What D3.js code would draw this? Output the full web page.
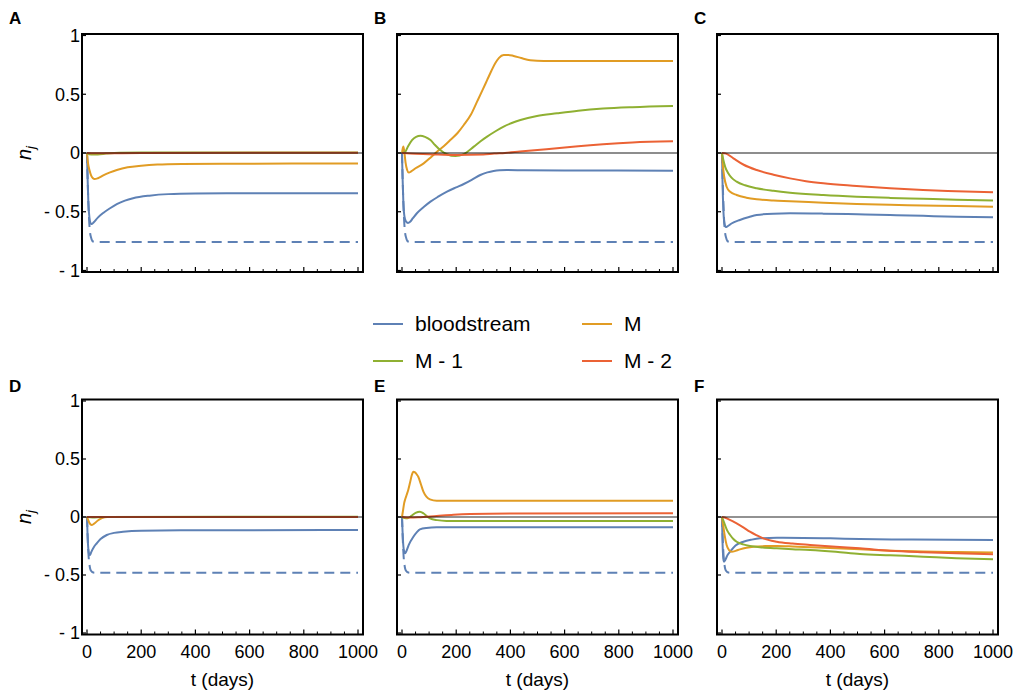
<!DOCTYPE html>
<html>
<head>
<meta charset="utf-8">
<script src="https://cdn.jsdelivr.net/npm/d3@7"></script>
<style>
  html, body { margin: 0; padding: 0; background: #fff; }
  svg { display: block; font-family: "Liberation Sans", Arial, sans-serif; }
</style>
</head>
<body>
<svg id="chart" width="1015" height="695"></svg>
<script>
// ---------------- DATA ----------------
const xTicks = [0, 200, 400, 600, 800, 1000];
const xMinorTicks = [50,100,150,250,300,350,450,500,550,650,700,750,850,900,950];
const yTicks = [1, 0.5, 0, -0.5, -1];
const yTickLabels = ["1", "0.5", "0", "- 0.5", "- 1"];
const seriesNames = ["bloodstream", "M", "M - 1", "M - 2"];
const seriesColors = ["#5E81B5", "#E19C24", "#8FB032", "#EB6235"];
const panelLetters = ["A", "B", "C", "D", "E", "F"];
const xLabel = "t (days)";

// dashed reference levels (bloodstream colour)
const dashTop = [[0,0],[4,-0.35],[8,-0.58],[11,-0.67],[15,-0.72],[20,-0.75],[28,-0.757],[1000,-0.757]];
const dashBottom = [[0,0],[3,-0.2],[6,-0.34],[9,-0.41],[13,-0.455],[20,-0.475],[28,-0.481],[1000,-0.481]];

// Panel A
const A_blood = [[0,0],[2,-0.2],[5,-0.42],[9,-0.55],[14,-0.6],[18,-0.605],[25,-0.59],[40,-0.55],[60,-0.51],[85,-0.47],[110,-0.435],[140,-0.405],[170,-0.385],[230,-0.363],[300,-0.35],[400,-0.345],[600,-0.343],[1000,-0.342]];
const A_M  = [[0,0],[4,-0.09],[9,-0.145],[15,-0.19],[22,-0.215],[28,-0.222],[40,-0.215],[60,-0.19],[85,-0.165],[110,-0.145],[150,-0.122],[200,-0.108],[260,-0.098],[350,-0.093],[500,-0.091],[1000,-0.09]];
const A_M1 = [[0,0],[15,-0.012],[40,-0.012],[70,-0.005],[120,0.003],[200,0.005],[1000,0.005]];
const A_M2 = [[0,0],[50,-0.003],[200,0],[1000,0.002]];

// Panel B
const B_blood = [[0,0],[2,-0.2],[5,-0.42],[9,-0.54],[15,-0.585],[22,-0.595],[30,-0.585],[40,-0.555],[55,-0.513],[80,-0.46],[105,-0.414],[135,-0.37],[166,-0.329],[197,-0.295],[228,-0.264],[260,-0.225],[289,-0.187],[315,-0.165],[338,-0.153],[360,-0.147],[387,-0.145],[450,-0.147],[600,-0.149],[1000,-0.15]];
const B_M  = [[0,0],[2,0.03],[5,0.055],[8,0.02],[13,-0.08],[19,-0.145],[25,-0.167],[35,-0.155],[50,-0.13],[80,-0.088],[105,-0.04],[129,0.011],[155,0.06],[178,0.11],[205,0.17],[228,0.238],[255,0.33],[277,0.437],[297,0.535],[314,0.62],[330,0.7],[344,0.763],[358,0.81],[375,0.834],[392,0.835],[412,0.826],[440,0.808],[473,0.79],[523,0.783],[1000,0.783]];
const B_M1 = [[0,0],[5,0.002],[12,0.01],[22,0.055],[37,0.11],[52,0.138],[68,0.147],[85,0.137],[105,0.11],[122,0.068],[141,0.025],[166,-0.011],[197,-0.026],[228,-0.009],[265,0.054],[290,0.1],[314,0.139],[345,0.185],[375,0.224],[405,0.255],[437,0.281],[498,0.315],[572,0.338],[650,0.36],[742,0.378],[850,0.39],[1000,0.4]];
const B_M2 = [[0,0],[30,-0.005],[100,-0.01],[200,-0.017],[300,-0.013],[340,-0.005],[380,0],[435,0.012],[500,0.026],[572,0.04],[650,0.058],[742,0.075],[850,0.09],[1000,0.1]];

// Panel C
const C_blood = [[0,0],[2,-0.25],[5,-0.48],[9,-0.6],[14,-0.63],[20,-0.625],[35,-0.6],[66,-0.57],[100,-0.545],[128,-0.528],[190,-0.516],[251,-0.513],[374,-0.516],[500,-0.522],[620,-0.528],[742,-0.535],[865,-0.542],[1000,-0.547]];
const C_M  = [[0,0],[3,-0.1],[8,-0.2],[17,-0.287],[30,-0.33],[54,-0.357],[90,-0.38],[128,-0.394],[190,-0.405],[251,-0.41],[374,-0.423],[497,-0.434],[620,-0.441],[742,-0.446],[865,-0.452],[1000,-0.457]];
const C_M1 = [[0,0],[5,-0.06],[12,-0.12],[23,-0.173],[35,-0.21],[54,-0.244],[85,-0.275],[128,-0.3],[190,-0.322],[251,-0.338],[374,-0.358],[497,-0.372],[620,-0.382],[742,-0.39],[865,-0.398],[1000,-0.405]];
const C_M2 = [[0,0],[15,-0.005],[42,-0.045],[80,-0.1],[128,-0.145],[190,-0.185],[251,-0.216],[310,-0.24],[374,-0.258],[497,-0.28],[620,-0.3],[742,-0.315],[865,-0.325],[1000,-0.335]];

// Panel D
const D_blood = [[0,0],[2,-0.15],[5,-0.28],[8,-0.32],[11,-0.328],[16,-0.3],[25,-0.26],[36,-0.227],[50,-0.19],[73,-0.155],[100,-0.137],[133,-0.127],[200,-0.118],[400,-0.114],[1000,-0.112]];
const D_M  = [[0,0],[5,-0.03],[10,-0.055],[17,-0.069],[25,-0.06],[40,-0.03],[55,-0.01],[75,0],[1000,0]];
const D_M1 = [[0,0],[20,-0.004],[60,0.001],[1000,0.002]];
const D_M2 = [[0,0],[1000,0.001]];

// Panel E
const E_blood = [[0,0],[2,-0.12],[5,-0.25],[8,-0.3],[11,-0.313],[15,-0.3],[25,-0.24],[42,-0.17],[55,-0.13],[66,-0.106],[90,-0.094],[128,-0.089],[1000,-0.089]];
const E_M  = [[0,0],[4,0.06],[8,0.12],[11,0.147],[17,0.19],[23,0.233],[30,0.3],[36,0.36],[42,0.39],[48,0.385],[55,0.365],[60,0.347],[70,0.28],[79,0.218],[90,0.175],[103,0.152],[128,0.14],[200,0.14],[1000,0.14]];
const E_M1 = [[0,0],[10,-0.008],[20,-0.01],[35,0.01],[50,0.035],[66,0.046],[80,0.03],[95,0],[103,-0.011],[130,-0.027],[164,-0.034],[250,-0.035],[1000,-0.035]];
const E_M2 = [[0,0],[30,-0.005],[60,-0.003],[128,0.009],[190,0.02],[251,0.026],[400,0.03],[1000,0.032]];

// Panel F
const F_blood = [[0,0],[2,-0.22],[5,-0.36],[7,-0.385],[12,-0.37],[20,-0.33],[30,-0.299],[50,-0.245],[79,-0.213],[110,-0.195],[140,-0.184],[202,-0.178],[300,-0.18],[400,-0.184],[509,-0.19],[700,-0.194],[1000,-0.198]];
const F_M  = [[0,0],[2,-0.04],[5,-0.083],[10,-0.16],[17,-0.241],[26,-0.285],[36,-0.299],[50,-0.292],[66,-0.279],[90,-0.265],[116,-0.256],[160,-0.251],[202,-0.25],[260,-0.254],[325,-0.261],[420,-0.27],[509,-0.279],[620,-0.29],[742,-0.297],[865,-0.302],[1000,-0.307]];
const F_M1 = [[0,0],[5,-0.03],[12,-0.075],[20,-0.12],[30,-0.155],[42,-0.19],[54,-0.213],[78,-0.236],[103,-0.25],[150,-0.262],[202,-0.27],[260,-0.277],[325,-0.284],[420,-0.3],[509,-0.319],[620,-0.33],[742,-0.342],[865,-0.355],[1000,-0.365]];
const F_M2 = [[0,0],[10,-0.005],[25,-0.02],[54,-0.055],[80,-0.092],[103,-0.127],[128,-0.158],[152,-0.184],[202,-0.213],[260,-0.229],[325,-0.241],[420,-0.257],[509,-0.27],[620,-0.29],[742,-0.303],[865,-0.313],[1000,-0.322]];

const panelSeries = [
  [A_blood, A_M, A_M1, A_M2],
  [B_blood, B_M, B_M1, B_M2],
  [C_blood, C_M, C_M1, C_M2],
  [D_blood, D_M, D_M1, D_M2],
  [E_blood, E_M, E_M1, E_M2],
  [F_blood, F_M, F_M1, F_M2]
];
const panelDash = [dashTop, dashTop, dashTop, dashBottom, dashBottom, dashBottom];

// ---------------- LAYOUT ----------------
const svg = d3.select("#chart");
const colLeft = [82, 397, 717];
const panelW = 281;
const rowY = [ {top: 35.5, bottom: 270.5}, {top: 401, bottom: 633} ];
const letterPos = [[9, 24], [374, 24], [694, 24], [9, 392], [374, 392], [694, 392]];
const font = "'Liberation Sans', Arial, sans-serif";

panelSeries.forEach((series, i) => {
  const col = i % 3, row = Math.floor(i / 3);
  const left = colLeft[col];
  const x = d3.scaleLinear().domain([0, 1000]).range([left + 5, left + panelW - 5]);
  const y = d3.scaleLinear().domain([-1, 1]).range([rowY[row].bottom, rowY[row].top]);
  const g = svg.append("g");
  const fTop = y(1) - 1.5, fBot = y(-1) + 1.5;

  const line = d3.line().x(d => x(d[0])).y(d => y(d[1])).curve(d3.curveMonotoneX);

  const clipId = "clip" + i;
  svg.append("clipPath").attr("id", clipId).append("rect")
    .attr("x", left).attr("y", fTop).attr("width", panelW).attr("height", fBot - fTop);
  const plot = g.append("g").attr("clip-path", `url(#${clipId})`);

  plot.append("path").datum(panelDash[i])
    .attr("d", line).attr("fill", "none")
    .attr("stroke", seriesColors[0]).attr("stroke-width", 2)
    .attr("stroke-dasharray", "10,6");

  series.forEach((s, k) => {
    plot.append("path").datum(s)
      .attr("d", line).attr("fill", "none")
      .attr("stroke", seriesColors[k]).attr("stroke-width", 2)
      .attr("stroke-linejoin", "round");
  });

  plot.append("line")
    .attr("x1", left).attr("x2", left + panelW)
    .attr("y1", y(0)).attr("y2", y(0))
    .attr("stroke", "#000")
    .attr("stroke-opacity", row === 0 ? 0.6 : 0.85)
    .attr("stroke-width", row === 0 ? 1.6 : 1.2);

  xTicks.forEach(t => {
    g.append("line").attr("x1", x(t)).attr("x2", x(t))
      .attr("y1", fBot).attr("y2", fBot - 5).attr("stroke", "#000").attr("stroke-width", 1.2);
  });
  xMinorTicks.forEach(t => {
    g.append("line").attr("x1", x(t)).attr("x2", x(t))
      .attr("y1", fBot).attr("y2", fBot - 3).attr("stroke", "#000").attr("stroke-width", 1);
  });
  yTicks.forEach(v => {
    g.append("line").attr("x1", left).attr("x2", left + 4)
      .attr("y1", y(v)).attr("y2", y(v)).attr("stroke", "#000").attr("stroke-width", 1.2);
  });

  g.append("rect").attr("x", left).attr("y", fTop)
    .attr("width", panelW).attr("height", fBot - fTop)
    .attr("fill", "none").attr("stroke", "#000").attr("stroke-width", 2);

  if (col === 0) {
    yTicks.forEach((v, j) => {
      g.append("text").attr("x", left - 2).attr("y", y(v)).attr("dy", "0.36em")
        .attr("text-anchor", "end").attr("font-size", 18).attr("font-family", font)
        .text(yTickLabels[j]);
    });
    const yl = g.append("text")
      .attr("transform", `translate(${31},${(fTop + fBot) / 2}) rotate(-90)`)
      .attr("text-anchor", "middle").attr("font-size", 20).attr("font-family", font)
      .attr("font-style", "italic");
    yl.append("tspan").text("n");
    yl.append("tspan").attr("font-size", 13).attr("dy", 4).text("j");
  }

  if (row === 1) {
    xTicks.forEach(t => {
      g.append("text").attr("x", x(t)).attr("y", 658)
        .attr("text-anchor", "middle").attr("font-size", 18).attr("font-family", font)
        .text(t);
    });
    g.append("text").attr("x", left + panelW / 2).attr("y", 686)
      .attr("text-anchor", "middle").attr("font-size", 19).attr("font-family", font)
      .text(xLabel);
  }

  svg.append("text").attr("x", letterPos[i][0]).attr("y", letterPos[i][1])
    .attr("font-size", 17).attr("font-weight", "bold").attr("font-family", font)
    .text(panelLetters[i]);
});

// ---------------- LEGEND ----------------
const legendX = [373, 582];
const legendY = [324, 361];
seriesNames.forEach((name, k) => {
  const cx = legendX[k % 2], cy = legendY[Math.floor(k / 2)];
  svg.append("line").attr("x1", cx).attr("x2", cx + 30)
    .attr("y1", cy).attr("y2", cy)
    .attr("stroke", seriesColors[k]).attr("stroke-width", 2);
  svg.append("text").attr("x", cx + 42).attr("y", cy + 6.5)
    .attr("font-size", 21).attr("font-family", font).text(name);
});
</script>
</body>
</html>
